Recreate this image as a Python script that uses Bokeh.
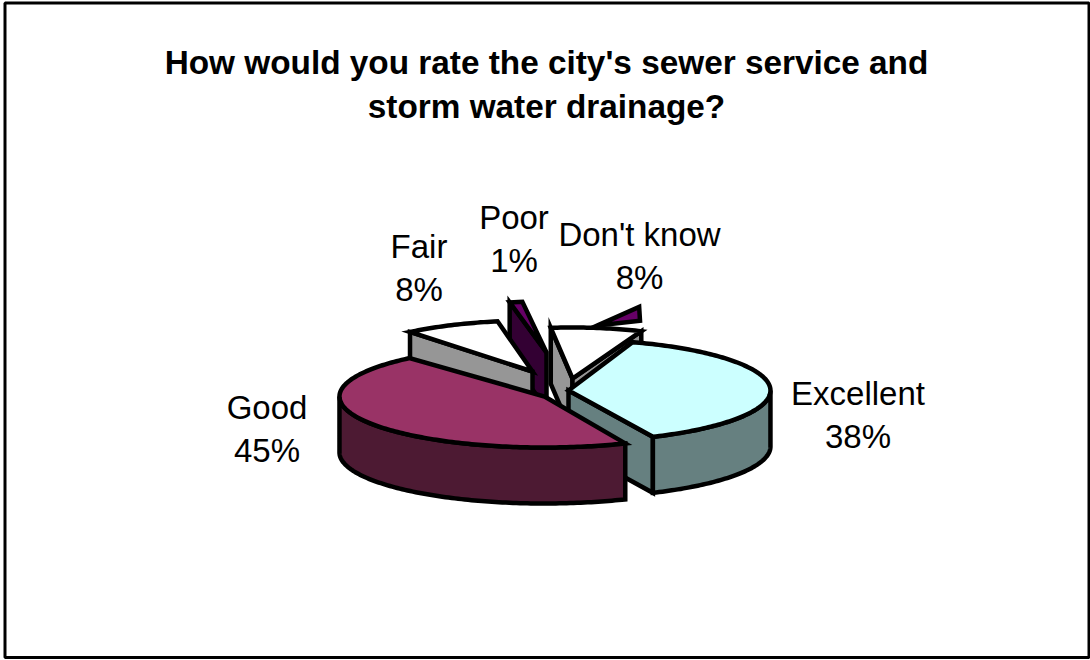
import math
from bokeh.plotting import figure
from bokeh.embed import file_html
from bokeh.resources import INLINE
from bokeh.core.properties import value

title_lines = ["How would you rate the city's sewer service and", "storm water drainage?"]
categories = ["Excellent", "Good", "Fair", "Poor", "Don't know"]
shares = [38, 45, 8, 1, 8]

# layout / style (pixel space of the picture)
START = 20.0
RX, RY, DEPTH = 204.0, 51.0, 56.0
apex = {"Excellent": (568, 390), "Good": (544, 396), "Fair": (532, 371),
        "Poor": (546, 352), "Don't know": (572, 378)}
rot = {"Excellent": -1.5, "Good": 0, "Fair": 2, "Poor": 2, "Don't know": 2}
rx_scale = {"Excellent": 0.99, "Good": 1.005, "Fair": 0.95, "Poor": 1.0, "Don't know": 0.9}
top_col = {"Excellent": "#CCFFFF", "Good": "#993366", "Fair": "#FFFFFF",
           "Poor": "#660066", "Don't know": "#FFFFFF"}
side_col = {"Excellent": "#668080", "Good": "#4D1A33", "Fair": "#969696",
            "Poor": "#330033", "Don't know": "#969696"}
label_pos = {"Excellent": (857.5, 393), "Good": (266.5, 407), "Fair": (418.5, 246),
             "Poor": (513.5, 217), "Don't know": (639, 234)}

angles = {}
a = START
for c, s in zip(categories, shares):
    angles[c] = (a + rot[c], a + rot[c] + s * 3.6)
    a += s * 3.6


def pt(c, ang, r=1.0):
    ax, ay = apex[c]
    t = math.radians(ang)
    return ax + RX * rx_scale[c] * r * math.sin(t), ay - RY * r * math.cos(t)


def arc(c, a0, a1):
    n = max(2, int(abs(a1 - a0)) + 1)
    return [pt(c, a0 + (a1 - a0) * i / (n - 1)) for i in range(n)]


p = figure(width=1090, height=660, x_range=(0, 1090), y_range=(660, 0),
           output_backend="svg", toolbar_location=None, min_border=0,
           outline_line_color=None, background_fill_color="white")
p.axis.visible = False
p.grid.visible = False


def poly(pts, color):
    p.patch([q[0] for q in pts], [q[1] for q in pts], fill_color=color,
            line_color="black", line_width=4.5, line_join="miter")


def drop(pts):
    return [(x, y + DEPTH) for x, y in pts]


def radial_face(c, ang):
    e = [apex[c], pt(c, ang)]
    poly(e + drop(e)[::-1], side_col[c])


def rim_face(c, a0, a1):
    e = arc(c, a0, a1)
    poly(e + drop(e)[::-1], side_col[c])


def top(c):
    a0, a1 = angles[c]
    poly([apex[c]] + arc(c, a0, a1), top_col[c])


# frame
p.quad(left=[4.5], right=[1088.5], top=[2.5], bottom=[657], fill_color="white",
       line_color="black", line_width=3)

# stray fragment of the Poor colour behind the Don't know slice
frag = [pt("Don't know", t, r) for r, t in [(1.05, 7.5), (1.45, 14.5), (1.19, 18)]]
poly(frag, top_col["Poor"])

# Don't know
c = "Don't know"
radial_face(c, angles[c][0])
radial_face(c, angles[c][1])
top(c)
# Poor
c = "Poor"
radial_face(c, angles[c][0])
top(c)
# Fair
c = "Fair"
radial_face(c, angles[c][0])
top(c)
# Excellent
c = "Excellent"
radial_face(c, angles[c][1])
rim_face(c, 90, angles[c][1])
top(c)
# Good
c = "Good"
rim_face(c, angles[c][0], 270)
top(c)

font = value("Liberation Sans")
p.text(x=[546, 546], y=[62, 106], text=title_lines, text_font=font,
       text_font_size="33.35px", text_font_style="bold", text_align="center",
       text_baseline="middle", text_color="black")
for c, s in zip(categories, shares):
    x, y = label_pos[c]
    p.text(x=[x, x], y=[y, y + 43], text=[c, f"{s}%"], text_font=font,
           text_font_size="33px", text_align="center", text_baseline="middle",
           text_color="black")

open("out.html", "w").write(file_html(p, INLINE))
